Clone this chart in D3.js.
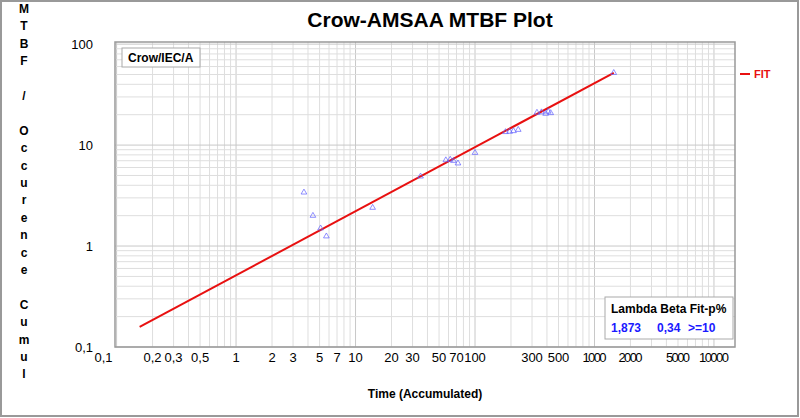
<!DOCTYPE html>
<html><head><meta charset="utf-8">
<script src="https://cdn.jsdelivr.net/npm/d3@7"></script>
<style>body{margin:0;background:#fff;font-family:"Liberation Sans",Arial,sans-serif}</style>
</head><body><svg id="c" width="800" height="418"></svg>
<script>
// failure points (accumulated time, cumulative MTBF)
var times = [3.7, 4.4, 5.1, 5.7, 13.9, 35, 57, 62, 66, 72, 100, 180, 195, 210, 230, 330, 360, 390, 410, 430, 1450];
var mtbf  = [3.4, 2.0, 1.5, 1.25, 2.4, 4.9, 7.1, 7.2, 7.0, 6.6, 8.4, 13.5, 13.6, 13.8, 14.2, 21, 21.2, 20.5, 21.5, 20.8, 52];
var fitT = [0.156, 1450];
var fitY = [0.158, 52];
var xTicks = [0.1, 0.2, 0.3, 0.5, 1, 2, 3, 5, 7, 10, 20, 30, 50, 70, 100, 300, 500, 1000, 2000, 5000, 10000];
var yTicks = [0.1, 1, 10, 100];
var yLetters = "MTBF / Occurence Cumul".split("");

var svg = d3.select("#c");
var L = 115, R = 735, T = 42, B = 347;
var x = d3.scaleLog().domain([0.097, 15000]).range([L, R]);
var y = d3.scaleLog().domain([0.1, 105]).range([B, T]);
var fmt = d => String(d).replace(".", ",");

svg.append("rect").attr("x", 1).attr("y", 1).attr("width", 797).attr("height", 415)
  .attr("fill", "none").attr("stroke", "#999").attr("stroke-width", 2);

// grid
var g = svg.append("g");
var xs = [];
for (var e = -1; e <= 4; e++) for (var m = 1; m < 10; m++) { var v = m * Math.pow(10, e); if (v >= 0.097 && v <= 15000) xs.push(v); }
g.selectAll(".gx").data(xs).enter().append("line")
  .attr("x1", d => x(d)).attr("x2", d => x(d)).attr("y1", T).attr("y2", B)
  .attr("stroke", d => Math.abs(Math.log10(d) % 1) < 1e-9 ? "#c8c8c8" : "#dedede");
var ys = [];
for (var e = -1; e <= 2; e++) for (var m = 1; m < 10; m++) { var v = m * Math.pow(10, e); if (v <= 105) ys.push(v); }
g.selectAll(".gy").data(ys).enter().append("line")
  .attr("x1", L).attr("x2", R).attr("y1", d => y(d)).attr("y2", d => y(d))
  .attr("stroke", d => Math.abs(Math.log10(d) % 1) < 1e-9 ? "#c8c8c8" : "#dedede");
svg.append("rect").attr("x", L).attr("y", T).attr("width", R - L).attr("height", B - T)
  .attr("fill", "none").attr("stroke", "#999").attr("stroke-width", 1.5);

// tick labels
svg.selectAll(".xt").data(xTicks).enter().append("text")
  .attr("x", d => d === 0.1 ? x(d) - 13 : x(d)).attr("y", B + 15).attr("text-anchor", "middle")
  .attr("font-size", 13).attr("textLength", d => fmt(d).length > 3 ? fmt(d).length * 6 : null)
  .text(fmt);
svg.selectAll(".yt").data(yTicks).enter().append("text")
  .attr("x", L - 22).attr("y", d => y(d) + 5).attr("text-anchor", "end").attr("font-size", 13)
  .text(fmt);

// titles
svg.append("text").attr("x", 430).attr("y", 27).attr("text-anchor", "middle")
  .attr("font-size", 21).attr("font-weight", "bold").text("Crow-AMSAA MTBF Plot");
svg.append("text").attr("x", 425).attr("y", 398).attr("text-anchor", "middle")
  .attr("font-size", 12).attr("font-weight", "bold").text("Time (Accumulated)");
svg.selectAll(".yl").data(yLetters).enter().append("text")
  .attr("x", 24).attr("y", (d, i) => 13 + i * 17.4).attr("text-anchor", "middle")
  .attr("font-size", 12).attr("font-weight", "bold").text(d => d);

// fit line
svg.append("line").attr("x1", x(fitT[0])).attr("y1", y(fitY[0])).attr("x2", x(fitT[1])).attr("y2", y(fitY[1]))
  .attr("stroke", "#e81010").attr("stroke-width", 2);

// points
svg.selectAll(".p").data(times).enter().append("path")
  .attr("d", d3.symbol(d3.symbolTriangle, 14))
  .attr("transform", (d, i) => "translate(" + x(d) + "," + y(mtbf[i]) + ")")
  .attr("fill", "none").attr("stroke", "#6060ff").attr("stroke-width", 0.7);

// legend
svg.append("line").attr("x1", 740).attr("x2", 750).attr("y1", 74).attr("y2", 74).attr("stroke", "#e81010").attr("stroke-width", 2);
svg.append("text").attr("x", 754).attr("y", 78).attr("font-size", 11).attr("font-weight", "bold").attr("fill", "#e81010").text("FIT");

svg.append("rect").attr("x", 122).attr("y", 48).attr("width", 78).attr("height", 19).attr("fill", "#fff").attr("stroke", "#aaa");
svg.append("text").attr("x", 128).attr("y", 62).attr("font-size", 12).attr("font-weight", "bold").text("Crow/IEC/A");

svg.append("rect").attr("x", 605).attr("y", 297).attr("width", 128).attr("height", 42).attr("fill", "#fff").attr("stroke", "#aaa");
svg.append("text").attr("x", 611).attr("y", 313).attr("font-size", 12).attr("font-weight", "bold").text("Lambda Beta Fit-p%");
svg.append("text").attr("x", 611).attr("y", 332).attr("font-size", 12).attr("font-weight", "bold").attr("fill", "#1a1aff").text("1,873");
svg.append("text").attr("x", 657).attr("y", 332).attr("font-size", 12).attr("font-weight", "bold").attr("fill", "#1a1aff").text("0,34");
svg.append("text").attr("x", 688).attr("y", 332).attr("font-size", 12).attr("font-weight", "bold").attr("fill", "#1a1aff").text(">=10");
</script></body></html>
